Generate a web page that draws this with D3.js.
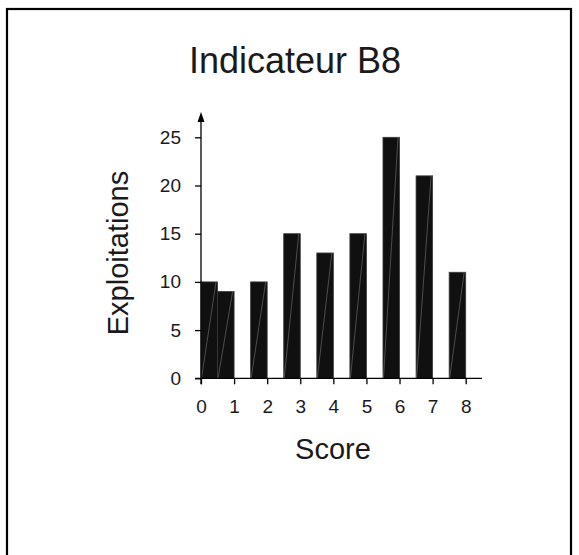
<!DOCTYPE html>
<html>
<head>
<meta charset="utf-8">
<script src="https://cdn.jsdelivr.net/npm/d3@7"></script>
<style>
  html, body { margin: 0; padding: 0; background: #fff; }
  svg { display: block; }
  text { font-family: "Liberation Sans", Arial, sans-serif; fill: #1a1a1a; }
</style>
</head>
<body>
<script>
const title = "Indicateur B8";
const xLabel = "Score";
const yLabel = "Exploitations";
const scores = [0, 1, 2, 3, 4, 5, 6, 7, 8];
const counts = [10, 9, 10, 15, 13, 15, 25, 21, 11];
const xTicks = [0, 1, 2, 3, 4, 5, 6, 7, 8];
const yTicks = [0, 5, 10, 15, 20, 25];

const W = 579, H = 555;
const svg = d3.select("body").append("svg").attr("width", W).attr("height", H);

// frame
svg.append("rect").attr("x", 7).attr("y", 9).attr("width", 564).attr("height", 570)
  .attr("fill", "none").attr("stroke", "#000").attr("stroke-width", 2.2);

const x = d3.scaleLinear().domain([0, 8]).range([201, 465.7]);
const y = d3.scaleLinear().domain([0, 25]).range([378.3, 137.3]);

// bars
const data = scores.map((s, i) => ({ s, v: counts[i] }));
const barW = 0.5;
const g = svg.append("g");
data.forEach(d => {
  const x0 = Math.max(0, d.s - barW), x1 = x0 + barW;
  g.append("rect")
    .attr("x", x(x0)).attr("y", y(d.v))
    .attr("width", x(x1) - x(x0)).attr("height", y(0) - y(d.v))
    .attr("fill", "#101010").attr("stroke", "#3a3a3a").attr("stroke-width", 0.8);
  g.append("line")
    .attr("x1", x(x0) + 0.5).attr("y1", y(0))
    .attr("x2", x(x1) - 1.5).attr("y2", y(d.v))
    .attr("stroke", "#8a8a8a").attr("stroke-width", 0.5);
});

const FONT = '"Liberation Sans", Arial, sans-serif';

// y axis
const yAxis = d3.axisLeft(y).tickValues(yTicks).tickSize(6).tickPadding(14);
const ya = svg.append("g").attr("transform", `translate(${x(0)},0)`).call(yAxis);
ya.select(".domain").remove();
ya.selectAll(".tick line").attr("stroke", "#000").attr("stroke-width", 1.3);
ya.selectAll(".tick text").attr("font-size", 19).attr("fill", "#1a1a1a").attr("font-family", FONT);
ya.append("line").attr("x1", 0).attr("x2", 0).attr("y1", y(0) + 6).attr("y2", 120)
  .attr("stroke", "#000").attr("stroke-width", 1.3);
ya.append("path").attr("d", "M0,112 L-3.5,122 L3.5,122 Z").attr("fill", "#000");

// x axis
const xAxis = d3.axisBottom(x).tickValues(xTicks).tickSize(6).tickPadding(15);
const xa = svg.append("g").attr("transform", `translate(0,${y(0)})`).call(xAxis);
xa.select(".domain").remove();
xa.selectAll(".tick line").attr("stroke", "#000").attr("stroke-width", 1.3);
xa.selectAll(".tick text").attr("font-size", 19).attr("fill", "#1a1a1a").attr("font-family", FONT);
xa.append("line").attr("x1", x(0) - 6).attr("x2", 482).attr("y1", 0).attr("y2", 0)
  .attr("stroke", "#000").attr("stroke-width", 1.3);

// titles
svg.append("text").attr("x", 295).attr("y", 72.5).attr("text-anchor", "middle")
  .attr("font-size", 36).text(title);
svg.append("text").attr("x", 333).attr("y", 458.5).attr("text-anchor", "middle")
  .attr("font-size", 29).text(xLabel);
svg.append("text").attr("transform", "translate(128,253) rotate(-90)")
  .attr("text-anchor", "middle").attr("font-size", 29).text(yLabel);
</script>
</body>
</html>
